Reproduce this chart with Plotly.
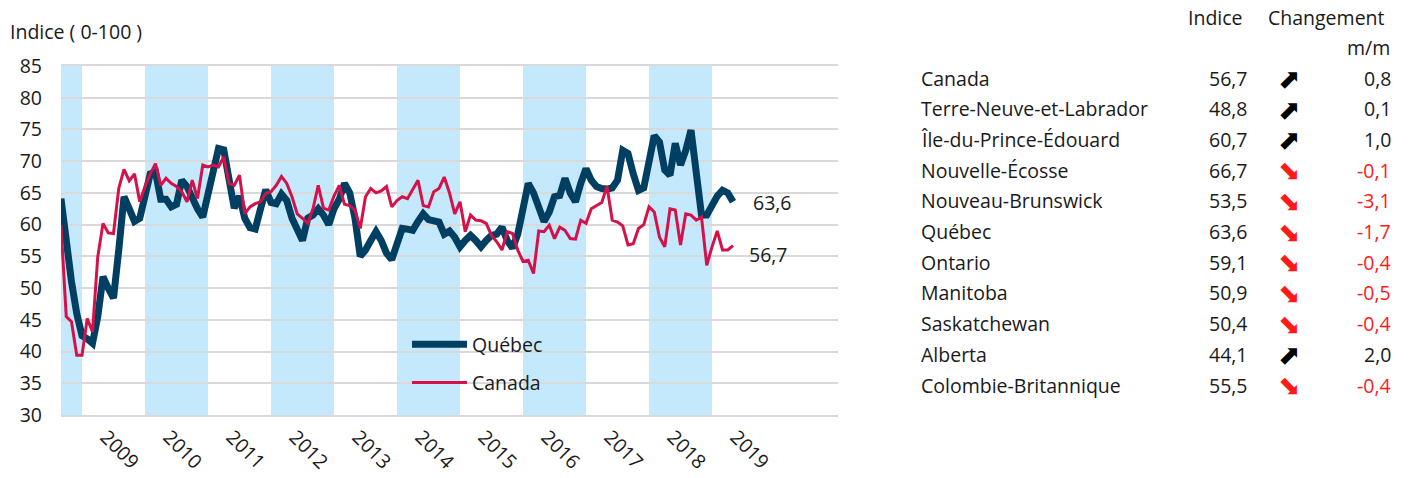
import plotly.graph_objects as go

# ---------------- data ----------------
start_year = 2008
start_month = 9  # September 2008

quebec = [64.1, 57, 51, 46, 42.5, 42, 41.3, 45.5, 51.8, 50, 48.4, 56, 64.4, 62.5, 60.5, 61,
          64, 68, 68.3, 64, 64, 62.8, 63.2, 67, 66, 64, 62.5, 61.2, 65, 69, 72, 71.8,
          67, 62.6, 64.5, 61, 59.5, 59.3, 62.5, 65.5, 63.5, 63.3, 64.8, 63.8, 61, 59,
          57.5, 61, 61.5, 62.5, 61.5, 60, 62.5, 64, 66.5, 65, 61, 55, 56, 57.5, 58.9,
          57.5, 55.5, 54.5, 57, 59.4, 59.3, 59.1, 60.5, 61.7, 60.8, 60.7, 60.4, 58.5,
          59, 58, 56.5, 57.5, 58.3, 57.5, 56.5, 57.5, 58.3, 58.5, 59.6, 57.5, 56.3,
          58.5, 62, 66.5, 65, 62.5, 60.5, 62, 64.4, 64.6, 67.3, 65, 63.6, 66.5, 68.8,
          67, 66, 65.7, 65.6, 65.8, 67, 71.7, 71.2, 68, 65.4, 65.8, 70, 74, 73, 68.6,
          67.8, 72.8, 69.4, 71.7, 74.9, 67.5, 61.5, 61.5, 63, 64.5, 65.4, 65, 63.6]

canada = [59.9, 45.5, 44.7, 39.4, 39.4, 45.2, 43.1, 54.9, 60.2, 58.7, 58.6, 65.7, 68.7,
          66.9, 68.0, 63.6, 66, 68, 69.6, 66.2, 67.3, 66.5, 66, 65.2, 63.6, 67, 64.1,
          69.4, 69.1, 69.4, 69.1, 70.7, 66.5, 66.2, 67.8, 61.7, 62.8, 63.3, 63.6, 64.9,
          65.2, 66.2, 67.6, 66.5, 64.4, 61.7, 61, 60.2, 62.5, 66.2, 62.6, 62.3, 64.5,
          66.2, 63.2, 63, 62.3, 59.4, 64.4, 65.7, 65, 65.3, 66, 62.8, 63.8, 64.4, 64.1,
          65.5, 67, 63, 62.8, 65.2, 65.7, 67.5, 65, 61.7, 63.6, 58.9, 61.5, 60.7, 60.6,
          60.2, 58.3, 57.3, 56, 58.9, 58.6, 56, 54.2, 54.4, 52.3, 59, 58.9, 59.9, 57.8,
          59.6, 59.1, 57.8, 57.7, 60.7, 60.2, 62.5, 63, 63.5, 66, 60.7, 60.4, 59.8, 56.8,
          57, 59.4, 60, 62.8, 62, 58, 56.5, 62.5, 62.3, 56.8, 61.7, 61.5, 60.7, 61.2,
          53.6, 56.5, 59, 56, 56, 56.7]

year_labels = [str(y) for y in range(2009, 2020)]
shaded_years = [2008, 2010, 2012, 2014, 2016, 2018]
y_ticks = list(range(30, 90, 5))

provinces = ["Canada", "Terre-Neuve-et-Labrador", "Île-du-Prince-Édouard", "Nouvelle-Écosse",
             "Nouveau-Brunswick", "Québec", "Ontario", "Manitoba", "Saskatchewan",
             "Alberta", "Colombie-Britannique"]
indices = [56.7, 48.8, 60.7, 66.7, 53.5, 63.6, 59.1, 50.9, 50.4, 44.1, 55.5]
changes = [0.8, 0.1, 1.0, -0.1, -3.1, -1.7, -0.4, -0.5, -0.4, 2.0, -0.4]

# ---------------- helpers ----------------
def fr(v):
    return f"{v:.1f}".replace(".", ",")

x0 = start_year + (start_month - 1) / 12
xs = [x0 + i / 12 for i in range(len(quebec))]

W_FIG, H_FIG = 1408, 478
L, T = 61, 66
R = W_FIG - 838
B = H_FIG - 415
PW, PH = W_FIG - L - R, H_FIG - T - B

def px(X):  # pixel -> paper
    return (X - L) / PW

def py(Y):
    return (T + PH - Y) / PH

FONT = "Open Sans"
FS = 19.5
TXT = "#1a1a1a"
NAVY = "#003f62"
CRIMSON = "#d4124a"
BAND = "#c4e8fc"
GRID = "#d9d9d9"
RED = "#ff1a1a"

fig = go.Figure()
fig.add_trace(go.Scatter(x=xs, y=quebec, mode="lines", name="Québec",
                         line=dict(color=NAVY, width=7), legendgroup="q"))
fig.add_trace(go.Scatter(x=xs, y=canada, mode="lines", name="Canada",
                         line=dict(color=CRIMSON, width=3), legendgroup="c"))

shapes = []
for yr in shaded_years:
    shapes.append(dict(type="rect", xref="x", yref="paper", x0=max(yr, x0), x1=yr + 1,
                       y0=0, y1=1, fillcolor=BAND, line=dict(width=0), layer="between"))

ann = []
tfont = dict(family=FONT, size=FS, color=TXT)
# end labels
ann.append(dict(x=xs[-1], y=quebec[-1], xref="x", yref="y", text=fr(quebec[-1]),
                showarrow=False, xanchor="left", yanchor="middle", xshift=18, yshift=-1,
                font=tfont))
ann.append(dict(x=xs[-1], y=canada[-1], xref="x", yref="y", text=fr(canada[-1]),
                showarrow=False, xanchor="left", yanchor="middle", xshift=14, yshift=-9,
                font=tfont))
# axis title
ann.append(dict(x=px(8), y=py(32), xref="paper", yref="paper", text="Indice ( 0-100 )",
                showarrow=False, xanchor="left", yanchor="middle", font=tfont))
# table headers
ann.append(dict(x=px(1245), y=py(17), xref="paper", yref="paper", text="Indice",
                showarrow=False, xanchor="right", yanchor="middle", font=tfont))
ann.append(dict(x=px(1387), y=py(17), xref="paper", yref="paper", text="Changement",
                showarrow=False, xanchor="right", yanchor="middle", font=tfont))
ann.append(dict(x=px(1392), y=py(47), xref="paper", yref="paper", text="m/m",
                showarrow=False, xanchor="right", yanchor="middle", font=tfont))
row0, dy = 78, 30.7
for k, (name, idx, ch) in enumerate(zip(provinces, indices, changes)):
    Y = row0 + k * dy
    up = ch >= 0
    col = "#000000" if up else RED
    ann.append(dict(x=px(919), y=py(Y), xref="paper", yref="paper", text=name,
                    showarrow=False, xanchor="left", yanchor="middle", font=tfont))
    ann.append(dict(x=px(1250), y=py(Y), xref="paper", yref="paper", text=fr(idx),
                    showarrow=False, xanchor="right", yanchor="middle", font=tfont))
    ann.append(dict(x=px(1289), y=py(Y), xref="paper", yref="paper",
                    text="⬈" if up else "⬊", height=24, valign="middle",
                    showarrow=False, xanchor="center", yanchor="middle",
                    font=dict(family="DejaVu Sans", size=27, color=col)))
    ann.append(dict(x=px(1393), y=py(Y), xref="paper", yref="paper", text=fr(ch),
                    showarrow=False, xanchor="right", yanchor="middle",
                    font=dict(family=FONT, size=FS, color=TXT if up else RED)))

fig.update_layout(
    width=W_FIG, height=H_FIG,
    margin=dict(l=L, r=R, t=T, b=B, pad=0),
    paper_bgcolor="white", plot_bgcolor="white",
    font=dict(family=FONT, size=FS, color=TXT),
    shapes=shapes, annotations=ann,
    showlegend=True,
    legend=dict(x=px(407), y=py(325), xanchor="left", yanchor="top",
                bgcolor="rgba(0,0,0,0)", font=tfont,
                traceorder="grouped", tracegroupgap=10, itemwidth=55),
    xaxis=dict(range=[x0, x0 + (838 - 61) / 63], tickmode="array",
               tickvals=[int(y) + 0.38 for y in year_labels], ticktext=year_labels,
               tickangle=45, showgrid=False, zeroline=False, showline=True,
               linecolor=GRID, linewidth=2, mirror=True, ticks="", automargin=False,
               ticklabelstandoff=1, tickfont=tfont),
    yaxis=dict(range=[30, 85], tickmode="array", tickvals=y_ticks,
               ticktext=[str(v) for v in y_ticks], showgrid=True, gridcolor=GRID,
               gridwidth=2, zeroline=False, showline=False, ticks="", automargin=False,
               ticklabelstandoff=18, tickfont=tfont),
)

fig.write_html("out.html", config={"displayModeBar": False},
               post_script="document.body.style.margin='0px';document.body.style.padding='0px';")
